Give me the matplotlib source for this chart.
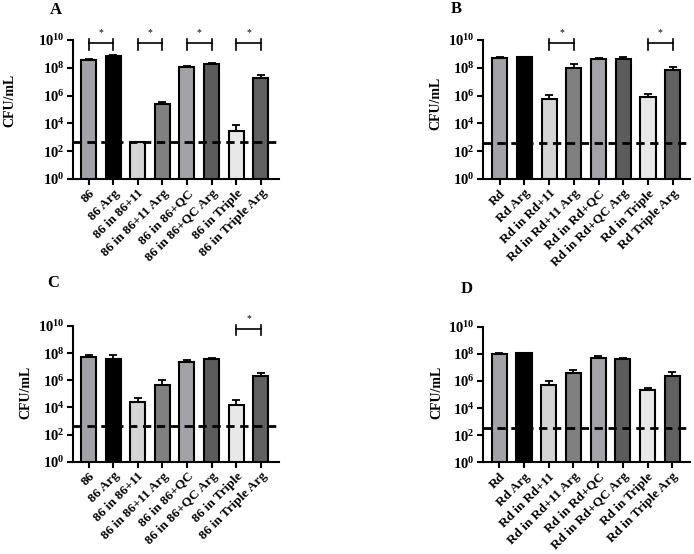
import numpy as np
import matplotlib
matplotlib.use("Agg")
from matplotlib import pyplot as plt
import matplotlib.transforms as mtransforms

plt.rcParams['font.family'] = 'Liberation Serif'
plt.rcParams['font.weight'] = 'bold'
plt.rcParams['mathtext.fontset'] = 'custom'
plt.rcParams['mathtext.bf'] = 'Liberation Serif:bold'
plt.rcParams['mathtext.rm'] = 'Liberation Serif:bold'

labels_86 = ["86", "86 Arg", "86 in 86+11", "86 in 86+11 Arg", "86 in 86+QC",
             "86 in 86+QC Arg", "86 in Triple", "86 in Triple Arg"]
labels_rd_b = ["Rd", "Rd Arg", "Rd in Rd+11", "Rd in Rd+11 Arg", "Rd in Rd+QC",
               "Rd in Rd+QC Arg", "Rd in Triple", "Rd Triple Arg"]
labels_rd_d = ["Rd", "Rd Arg", "Rd in Rd+11", "Rd in Rd+11 Arg", "Rd in Rd+QC",
               "Rd in Rd+QC Arg", "Rd in Triple", "Rd in Triple Arg"]

a_mean = [3.6e8, 7.4e8, 4.4e2, 2.4e5, 1.2e8, 1.9e8, 2.8e3, 1.9e7]
a_sd = [0.9e8, 0.5e8, 0, 1.2e5, 0.15e8, 0.3e8, 4.4e3, 1.3e7]
b_mean = [4.8e8, 5.6e8, 5.7e5, 1.0e8, 4.5e8, 4.3e8, 8.3e5, 7.2e7]
b_sd = [1.5e8, 0.3e8, 6.0e5, 0.8e8, 0.9e8, 1.7e8, 5.5e5, 4.8e7]
c_mean = [4.9e7, 3.7e7, 2.5e4, 4.3e5, 2.2e7, 3.7e7, 1.6e4, 1.96e6]
c_sd = [2.0e7, 3.5e7, 2.2e4, 5.7e5, 0.75e7, 0.5e7, 1.9e4, 1.25e6]
d_mean = [1.0e8, 1.15e8, 4.8e5, 3.9e6, 4.9e7, 4.2e7, 2.1e5, 2.2e6]
d_sd = [0.2e8, 0.1e8, 4.5e5, 2.4e6, 2.3e7, 0.9e7, 0.8e5, 2.2e6]

limits = [440, 370, 430, 320]
sig_pairs = [[(0, 1), (2, 3), (4, 5), (6, 7)], [(2, 3), (6, 7)], [(6, 7)], []]

colors = ["#a2a2a8", "#000000", "#d4d4d4", "#808080",
          "#a2a2a8", "#5c5c5c", "#e8e8e8", "#606060"]

W, H = 694, 554
fig = plt.figure(figsize=(W / 100, H / 100), dpi=100)

# axes rectangles in pixels: left, right, top(1e10), bottom(1e0)
rects = [(73, 279, 40, 179), (483, 690, 40, 179),
         (73, 279, 326, 461.7), (483, 690, 326.7, 462.3)]
xlims = [(-0.63, 7.74), (-0.68, 7.70), (-0.63, 7.74), (-0.66, 7.72)]
letters = ["A", "B", "C", "D"]
letter_pos = [(56, 10), (456, 9), (53, 283), (467, 289)]
ylab_pos = [(10, 100), (436, 103), (26, 392), (437, 392)]

means = [a_mean, b_mean, c_mean, d_mean]
sds = [a_sd, b_sd, c_sd, d_sd]
xlabels = [labels_86, labels_rd_b, labels_86, labels_rd_d]

for i in range(4):
    l, r, t, b = rects[i]
    ax = fig.add_axes([l / W, 1 - b / H, (r - l) / W, (b - t) / H])
    x = np.arange(8)
    ax.bar(x, means[i], width=0.61, color=colors, edgecolor="black", linewidth=1.5,
           zorder=2)
    ax.errorbar(x, means[i], yerr=[np.zeros(8), sds[i]], fmt="none", ecolor="black",
                elinewidth=1.3, capsize=3, capthick=1.3, zorder=1)
    ax.axhline(limits[i], color="black", ls="--", lw=2, dashes=(3, 2), zorder=3,
               clip_on=False)
    ax.set_yscale("log")
    ax.set_ylim(1, 1e10)
    ax.set_xlim(*xlims[i])
    ax.set_yticks([10.0 ** k for k in range(0, 11, 2)])
    ax.set_yticklabels([r"$\mathbf{10^{%d}}$" % k for k in range(0, 11, 2)], fontsize=10.5)
    ax.yaxis.set_minor_locator(matplotlib.ticker.NullLocator())
    ax.set_xticks(x)
    ax.set_xticklabels(xlabels[i], rotation=45, ha="right", rotation_mode="anchor",
                       fontsize=9.5, fontweight="bold")
    for s in ["top", "right"]:
        ax.spines[s].set_visible(False)
    for s in ["left", "bottom"]:
        ax.spines[s].set_linewidth(1.5)
    ax.tick_params(direction="out", length=4, width=1.5, pad=2)

    trans = mtransforms.blended_transform_factory(ax.transData, ax.transAxes)
    for p, q in sig_pairs[i]:
        ax.plot([p, q], [0.977, 0.977], color="black", lw=1.2, transform=trans,
                clip_on=False)
        for e in (p, q):
            ax.plot([e, e], [0.93, 1.01], color="black", lw=1.2, transform=trans,
                    clip_on=False)
        ax.text((p + q) / 2, 1.055, "*", ha="center", va="center", fontsize=7,
                fontweight="normal", transform=trans)

    fig.text(letter_pos[i][0] / W, 1 - letter_pos[i][1] / H, letters[i],
             fontsize=12, fontweight="bold", ha="center", va="center")
    fig.text(ylab_pos[i][0] / W, 1 - ylab_pos[i][1] / H, "CFU/mL", rotation=90,
             fontsize=10, fontweight="bold", ha="center", va="center")

fig.savefig("out.png", dpi=100)
